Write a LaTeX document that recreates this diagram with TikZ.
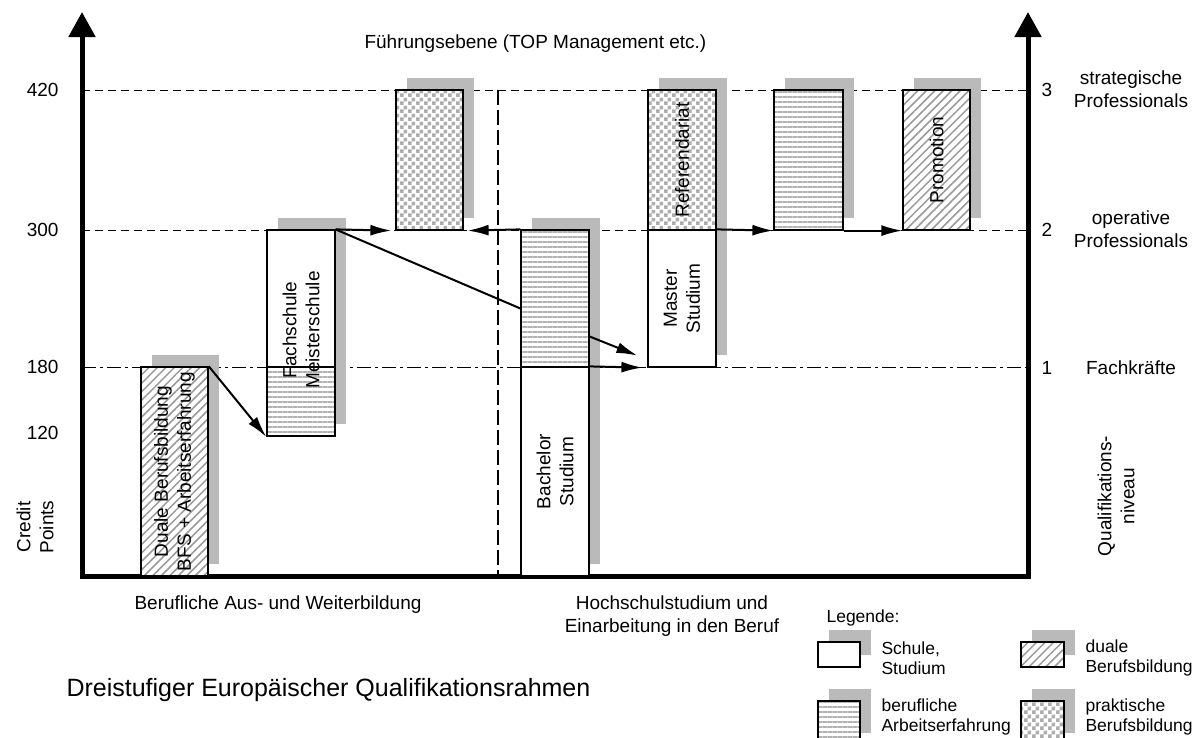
\documentclass[tikz,border=0pt]{standalone}
\usepackage{fontspec}
\setmainfont{Liberation Sans}
\usetikzlibrary{arrows.meta,fit,shadows,patterns,patterns.meta}

\newcommand{\lblfont}{\fontsize{19}{23}\selectfont}
\newcommand{\legfont}{\fontsize{17.5}{20}\selectfont}
\newcommand{\ttlfont}{\fontsize{25}{30}\selectfont}

\pgfdeclarepatternformonly{qchecker}{\pgfpointorigin}{\pgfqpoint{8pt}{8pt}}{\pgfqpoint{8pt}{8pt}}{%
  \pgfpathrectangle{\pgfpointorigin}{\pgfqpoint{4pt}{4pt}}%
  \pgfpathrectangle{\pgfqpoint{4pt}{4pt}}{\pgfqpoint{4pt}{4pt}}%
  \pgfusepath{fill}}

\begin{document}
\begin{tikzpicture}[x=1pt,y=-1pt,
  every node/.style={font=\lblfont},
  cbox/.style={draw, line width=1.2pt, inner sep=0pt,
    drop shadow={shadow xshift=11pt, shadow yshift=12pt, fill=black!27, opacity=1},
    preaction={fill=white}},
  hatch/.style={cbox, pattern={Lines[angle=45,distance=6pt,line width=1.5pt]}, pattern color=black!40},
  hlines/.style={cbox, pattern={Lines[angle=0,distance=5pt,line width=1.6pt]}, pattern color=black!30},
  checker/.style={cbox, pattern=qchecker, pattern color=black!32},
  conn/.style={line width=2pt, -{Latex[length=21pt,width=11pt]}},
  axis/.style={line width=5pt, {Triangle[width=26pt,length=25pt]}-{Triangle[width=26pt,length=25pt]}},
  lvl/.style={line width=1pt, dash pattern=on 8pt off 5pt},
  lvlone/.style={line width=1pt, dash pattern=on 14pt off 4pt on 3pt off 4pt},
  divide/.style={line width=1.2pt, dash pattern=on 15pt off 5pt}]
\useasboundingbox (0,0) rectangle (1200,737);

% axes and levels
\coordinate (ltop) at (82,12);
\coordinate (lbot) at (82,576);
\coordinate (rbot) at (1028,576);
\coordinate (rtop) at (1028,12);
\draw[lvl] (82,90) -- (1028,90);
\draw[lvl] (82,230) -- (1028,230);
\draw[lvlone] (82,367) -- (1028,367);
\draw[divide] (498,90) -- (498,576);
\draw[axis] (ltop) -- (lbot) -- (rbot) -- (rtop);

\node[anchor=east] (c420) at (62,90) {420};
\node[anchor=east] (c300) at (62,230) {300};
\node[anchor=east] (c180) at (62,367) {180};
\node[anchor=east] (c120) at (62,433) {120};
\node[rotate=90, align=center] (cp) at (35,527) {Credit\\Points};
\node (n3) at (1047,90) {3};
\node (n2) at (1047,230) {2};
\node (n1) at (1047,368) {1};
\node[align=center] (l3) at (1131,89) {strategische\\Professionals};
\node[align=center] (l2) at (1131,229) {operative\\Professionals};
\node (l1) at (1131,368) {Fachkräfte};
\node[rotate=90, align=center] (qn) at (1116,496) {Qualifikations-\\niveau};
\node[anchor=west] (fe) at (361,44) {Führungsebene (TOP Management etc.)};

% boxes
\node[hatch, fit={(141,367) (208,576)}] (duale) {};
\node[hlines, fit={(267,367) (335,436)}] (fachAE) {};
\node[cbox, fit={(267,230) (335,367)}] (fach) {};
\node[checker, fit={(396,90) (463,230)}] (pbb) {};
\node[cbox, fit={(521,367) (589,576)}] (bach) {};
\node[hlines, fit={(521,230) (589,367)}] (bachAE) {};
\node[cbox, fit={(648,230) (716,367)}] (master) {};
\node[checker, fit={(648,90) (716,230)}] (ref) {};
\node[hlines, fit={(774,90) (843,230)}] (beruf) {};
\node[hatch, fit={(903,90) (970,230)}] (promo) {};

\node[rotate=90, align=center] (tduale) at (duale.center) {Duale Berufsbildung\\BFS + Arbeitserfahrung};
\node[rotate=90, align=center] (tfach) at (301,330) {Fachschule\\Meisterschule};
\node[rotate=90, align=center] (tbach) at (bach.center) {Bachelor\\Studium};
\node[rotate=90, align=center] (tmaster) at (master.center) {Master\\Studium};
\node[rotate=90] (tref) at (ref.center) {Referendariat};
\node[rotate=90] (tpromo) at (promo.center) {Promotion};

% transitions
\draw[conn] (duale.north east) -- (fachAE.south west);
\draw[conn] (fach.north east) -- ([xshift=-4pt]pbb.south west);
\draw[conn] (bachAE.north west) -- ([xshift=4pt]pbb.south east);
\draw[line width=2pt] (fach.north east) -- ([yshift=-10pt]bachAE.west);
\draw[conn] ([yshift=-38pt]bachAE.east) -- ([shift={(-10pt,12pt)}]master.south west);
\draw[conn] (bach.north east) -- ([xshift=-5pt]master.south west);
\draw[conn] (master.north east) -- (beruf.south west);
\draw[conn] (beruf.south east) -- (promo.south west);

\node (lab1) at (278,605) {Berufliche Aus- und Weiterbildung};
\node[align=center] (lab2) at (672,616) {Hochschulstudium und\\Einarbeitung in den Beruf};
\node[anchor=west, font=\ttlfont] (title) at (63,690) {Dreistufiger Europäischer Qualifikationsrahmen};

% legend
\node[anchor=west, font=\legfont] (leg) at (823,618) {Legende:};
\node[cbox, fit={(818,642) (860,667)}] (lgS) {};
\node[hatch, fit={(1021,642) (1064,667)}] (lgD) {};
\node[hlines, fit={(818,701) (860,745)}] (lgA) {};
\node[checker, fit={(1021,701) (1064,745)}] (lgP) {};
\node[anchor=west, align=left, font=\legfont] (tlgS) at (878,658) {Schule,\\Studium};
\node[anchor=west, align=left, font=\legfont] (tlgD) at (1082,658) {duale\\Berufsbildung};
\node[anchor=west, align=left, font=\legfont] (tlgA) at (878,717) {berufliche\\Arbeitserfahrung};
\node[anchor=west, align=left, font=\legfont] (tlgP) at (1082,717) {praktische\\Berufsbildung};
\end{tikzpicture}
\end{document}
